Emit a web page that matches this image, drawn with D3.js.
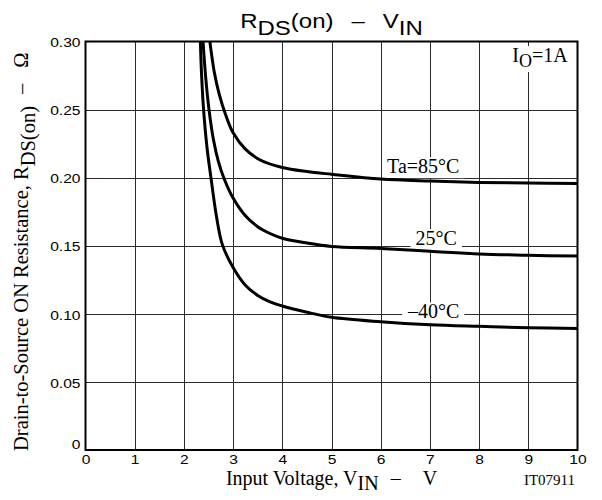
<!DOCTYPE html>
<html>
<head>
<meta charset="utf-8">
<script src="https://cdn.jsdelivr.net/npm/d3@7"></script>
<style>
  body { margin: 0; background: #fff; }
  svg { display: block; }
  .sans { font-family: "Liberation Sans", Arial, sans-serif; }
  .serif { font-family: "Liberation Serif", "Times New Roman", serif; }
</style>
</head>
<body>
<svg id="chart" width="602" height="500"></svg>
<script>
// axis ticks
const xTicks = [0, 1, 2, 3, 4, 5, 6, 7, 8, 9, 10];
const yTicks = [0, 0.05, 0.10, 0.15, 0.20, 0.25, 0.30];

// Ta = -40°C
const vinM40 = [2.33, 2.36, 2.40, 2.47, 2.55, 2.66, 2.78, 3.00, 3.25, 3.50, 3.75, 4.00, 4.50, 5.00, 6.00, 7.00, 8.00, 9.00, 10.0];
const rM40   = [0.305, 0.275, 0.250, 0.222, 0.200, 0.172, 0.151, 0.134, 0.121, 0.1135, 0.1088, 0.1058, 0.1012, 0.0975, 0.0942, 0.092, 0.0908, 0.0898, 0.0893];

// Ta = 25°C
const vin25 = [2.38, 2.44, 2.51, 2.60, 2.70, 2.82, 3.00, 3.25, 3.50, 3.75, 4.00, 4.50, 5.00, 6.00, 7.00, 8.00, 9.00, 10.0];
const r25   = [0.305, 0.275, 0.250, 0.228, 0.212, 0.199, 0.185, 0.172, 0.164, 0.159, 0.1555, 0.152, 0.1495, 0.148, 0.146, 0.144, 0.143, 0.1424];

// Ta = 85°C
const vin85 = [2.51, 2.62, 2.72, 2.85, 3.00, 3.25, 3.55, 4.00, 4.50, 5.00, 6.00, 7.00, 8.00, 9.00, 10.0];
const r85   = [0.305, 0.277, 0.261, 0.246, 0.233, 0.221, 0.213, 0.2075, 0.2045, 0.2025, 0.199, 0.1975, 0.1965, 0.196, 0.1958];

const seriesNames = ['\u201340\u00b0C', '25\u00b0C', 'Ta=85\u00b0C'];
// label anchor (right end of text) per series
const labelVin = [7.6, 7.55, 7.6];
const labelR   = [0.0967, 0.1505, 0.2033];

const svg = d3.select('#chart');

const x = d3.scaleLinear().domain([0, 10]).range([85.5, 577.5]);
const y = d3.scaleLinear().domain([0, 0.30]).range([450, 41.5]);

svg.append('defs').append('clipPath').attr('id', 'plot-clip')
  .append('rect')
  .attr('x', x(0)).attr('y', y(0.30))
  .attr('width', x(10) - x(0)).attr('height', y(0) - y(0.30));

// gridlines
const grid = svg.append('g').attr('class', 'grid')
  .attr('stroke', '#2a2a2a').attr('stroke-width', 1);
grid.selectAll('line.v')
  .data(xTicks.slice(1, -1))
  .join('line').attr('class', 'v')
  .attr('x1', d => Math.round(x(d)) + 0.5).attr('x2', d => Math.round(x(d)) + 0.5)
  .attr('y1', y(0.30)).attr('y2', y(0));
grid.selectAll('line.h')
  .data(yTicks.slice(1, -1))
  .join('line').attr('class', 'h')
  .attr('y1', d => Math.round(y(d)) + 0.5).attr('y2', d => Math.round(y(d)) + 0.5)
  .attr('x1', x(0)).attr('x2', x(10));

// white boxes behind the labels, then the labels
const labelG = svg.append('g').attr('class', 'serif');
const ioText = labelG.append('text')
  .attr('x', x(9.8)).attr('y', 62)
  .attr('text-anchor', 'end')
  .attr('font-size', 20);
ioText.append('tspan').text('I');
ioText.append('tspan').attr('dy', 5).attr('font-size', 18).text('O');
ioText.append('tspan').attr('dy', -5).text('=1A');

labelG.selectAll('text.curve-label')
  .data(seriesNames)
  .join('text').attr('class', 'curve-label')
  .attr('x', (d, i) => x(labelVin[i]))
  .attr('y', (d, i) => y(labelR[i]))
  .attr('text-anchor', 'end')
  .attr('font-size', 20)
  .text(d => d);

labelG.selectAll('text').each(function () {
  const b = this.getBBox();
  d3.select(this.parentNode).insert('rect', () => this)
    .attr('x', b.x - 5).attr('y', b.y + 2)
    .attr('width', b.width + 10).attr('height', b.height - 1)
    .attr('fill', '#fff');
});

// curves
const line = d3.line()
  .x(d => x(d[0])).y(d => y(d[1]))
  .curve(d3.curveCatmullRom.alpha(0.5));

const curves = [
  d3.zip(vinM40, rM40),
  d3.zip(vin25, r25),
  d3.zip(vin85, r85)
];

svg.append('g').attr('clip-path', 'url(#plot-clip)')
  .selectAll('path')
  .data(curves)
  .join('path')
  .attr('d', line)
  .attr('fill', 'none')
  .attr('stroke', '#000')
  .attr('stroke-width', 3)
  .attr('stroke-linejoin', 'round');

// frame
svg.append('rect')
  .attr('x', x(0)).attr('y', y(0.30))
  .attr('width', x(10) - x(0)).attr('height', y(0) - y(0.30))
  .attr('fill', 'none').attr('stroke', '#000').attr('stroke-width', 2);

// axes
const xAxis = svg.append('g')
  .attr('transform', `translate(0,${y(0)})`)
  .call(d3.axisBottom(x).tickValues(xTicks).tickSize(0).tickPadding(5).tickFormat(d3.format('d')));
const yAxis = svg.append('g')
  .attr('transform', `translate(${x(0)},0)`)
  .call(d3.axisLeft(y).tickValues(yTicks).tickSize(0).tickPadding(0)
    .tickFormat(d => d === 0 ? '0' : d3.format('.2f')(d)));

[xAxis, yAxis].forEach(ax => {
  ax.select('.domain').remove();
  ax.attr('font-family', '"Liberation Sans", Arial, sans-serif').attr('font-size', 13);
  ax.selectAll('text').attr('fill', '#000');
});
xAxis.selectAll('text').attr('transform', 'scale(1.2,1)')
  .attr('x', 0);
yAxis.selectAll('text')
  .attr('x', null)
  .attr('transform', d => `translate(-5,${d === 0 ? -6 : 1}) scale(1.2,1)`);

// title
const title = svg.append('g')
  .attr('transform', `translate(${(x(0) + x(10)) / 2},28) scale(1.2,1)`)
  .append('text').attr('class', 'sans')
  .attr('text-anchor', 'middle').attr('font-size', 20);
title.append('tspan').text('R');
title.append('tspan').attr('dy', 7).text('DS');
title.append('tspan').attr('dy', -7).text('(on)');
title.append('tspan').attr('dx', 15).text('\u2013');
title.append('tspan').attr('dx', 15).text('V');
title.append('tspan').attr('dy', 7).text('IN');

// x axis title
const xTitle = svg.append('text').attr('class', 'serif')
  .attr('x', (x(0) + x(10)) / 2).attr('y', 485)
  .attr('text-anchor', 'middle').attr('font-size', 20);
xTitle.append('tspan').text('Input Voltage, V');
xTitle.append('tspan').attr('dy', 5).text('IN');
xTitle.append('tspan').attr('dy', -5).attr('dx', 12).text('\u2013');
xTitle.append('tspan').attr('dx', 22).text('V');

svg.append('text').attr('class', 'serif')
  .attr('x', 575).attr('y', 485)
  .attr('text-anchor', 'end').attr('font-size', 15)
  .text('IT07911');

// y axis title
const yTitle = svg.append('text').attr('class', 'serif')
  .attr('transform', `translate(28,${(y(0) + y(0.30)) / 2 + 6}) rotate(-90)`)
  .attr('text-anchor', 'middle').attr('font-size', 20.5);
yTitle.append('tspan').text('Drain-to-Source ON Resistance, R');
yTitle.append('tspan').attr('dy', 7).text('DS(on)');
yTitle.append('tspan').attr('dy', -7).attr('dx', 12).text('\u2013');
yTitle.append('tspan').attr('dx', 16).text('\u03a9');
</script>
</body>
</html>
